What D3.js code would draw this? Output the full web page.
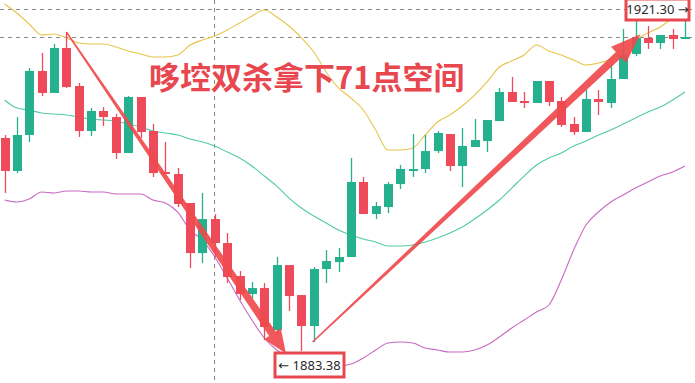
<!DOCTYPE html>
<html>
<head>
<meta charset="utf-8">
<script src="https://cdn.jsdelivr.net/npm/d3@7"></script>
<style>
  html, body { margin: 0; padding: 0; background: #fff; }
  svg { display: block; }
</style>
</head>
<body>
<script>
// candle data (price)
const opens = [1907.00, 1903.34, 1907.33, 1914.43, 1911.99, 1916.98, 1912.76, 1907.77, 1909.99, 1909.32,
  1905.33, 1911.54, 1907.77, 1903.23, 1903.00, 1899.79, 1894.24, 1898.01, 1895.35, 1891.69,
  1889.70, 1890.36, 1885.70, 1892.91, 1889.58, 1886.15, 1892.47, 1893.24, 1893.80, 1902.12,
  1898.57, 1899.34, 1901.89, 1903.45, 1903.56, 1905.55, 1907.44, 1903.89, 1906.00, 1906.66,
  1908.88, 1912.10, 1911.10, 1910.88, 1913.32, 1911.10, 1908.55, 1907.66, 1911.32, 1910.88,
  1913.54, 1916.31, 1918.09, 1917.53, 1918.42, 1917.97];
const highs = [1907.33, 1909.32, 1914.76, 1916.42, 1917.42, 1918.75, 1913.10, 1910.32, 1910.43, 1909.66,
  1911.65, 1911.54, 1908.55, 1906.55, 1903.67, 1899.79, 1900.90, 1898.57, 1896.46, 1892.25,
  1891.03, 1890.92, 1893.80, 1892.91, 1889.58, 1892.69, 1894.57, 1894.80, 1904.78, 1902.67,
  1899.90, 1902.12, 1904.00, 1907.44, 1907.33, 1907.77, 1907.44, 1908.10, 1909.10, 1908.99,
  1912.54, 1913.76, 1912.10, 1913.32, 1913.32, 1911.54, 1909.32, 1912.32, 1912.32, 1915.09,
  1919.08, 1920.08, 1919.42, 1918.42, 1919.08, 1921.30];
const lows = [1900.90, 1903.11, 1906.55, 1911.65, 1911.99, 1912.54, 1907.11, 1907.22, 1908.33, 1904.67,
  1905.33, 1907.00, 1902.67, 1903.00, 1899.34, 1892.58, 1893.13, 1893.80, 1890.92, 1889.03,
  1889.25, 1884.59, 1885.15, 1887.81, 1883.38, 1884.37, 1890.92, 1892.14, 1893.80, 1898.57,
  1898.01, 1898.68, 1901.34, 1902.67, 1903.11, 1905.33, 1903.34, 1901.56, 1906.00, 1905.44,
  1908.88, 1910.99, 1910.32, 1910.88, 1910.54, 1908.22, 1907.33, 1907.66, 1909.55, 1910.32,
  1913.54, 1916.09, 1916.87, 1916.87, 1916.87, 1917.97];
const closes = [1903.34, 1907.33, 1914.43, 1911.99, 1916.98, 1912.65, 1907.77, 1909.99, 1909.32, 1905.33,
  1911.54, 1907.66, 1903.11, 1903.11, 1899.68, 1894.24, 1898.01, 1895.35, 1891.58, 1889.70,
  1890.36, 1886.04, 1892.91, 1889.47, 1886.15, 1892.47, 1893.36, 1893.80, 1902.12, 1898.57,
  1899.45, 1901.89, 1903.56, 1903.56, 1905.55, 1907.55, 1903.89, 1906.11, 1906.77, 1908.99,
  1912.10, 1910.99, 1910.88, 1913.32, 1910.99, 1908.44, 1907.66, 1911.32, 1910.99, 1913.54,
  1916.20, 1918.09, 1917.53, 1918.42, 1917.97, 1918.20];

// bollinger bands
const bbUpper = [1921.86, 1920.86, 1919.64, 1918.42, 1918.53, 1918.09, 1917.53, 1917.42, 1917.42, 1917.09,
  1916.64, 1916.31, 1915.98, 1915.98, 1916.20, 1917.31, 1917.86, 1918.31, 1918.97, 1919.75,
  1920.53, 1921.19, 1920.41, 1919.42, 1918.09, 1916.53, 1914.32, 1912.54, 1911.43, 1910.10,
  1907.88, 1905.67, 1905.67, 1905.89, 1907.33, 1908.77, 1909.55, 1910.54, 1911.76, 1913.21,
  1914.87, 1915.54, 1916.20, 1917.31, 1916.64, 1916.20, 1915.65, 1915.09, 1915.31, 1915.76,
  1916.76, 1917.86, 1918.64, 1919.31, 1920.30, 1921.08];
const bbMid = [1911.21, 1910.32, 1910.10, 1909.77, 1909.66, 1909.55, 1909.32, 1909.10, 1908.99, 1908.88,
  1908.55, 1908.22, 1907.77, 1907.55, 1907.33, 1906.89, 1906.55, 1906.11, 1905.44, 1904.78,
  1903.89, 1902.78, 1901.67, 1900.34, 1899.23, 1898.35, 1897.57, 1896.79, 1896.24, 1895.80,
  1895.46, 1895.02, 1895.02, 1895.13, 1895.46, 1895.91, 1896.46, 1897.13, 1898.01, 1899.01,
  1900.12, 1901.45, 1902.78, 1904.00, 1904.78, 1905.33, 1906.11, 1906.66, 1907.33, 1907.88,
  1908.55, 1909.21, 1909.88, 1910.43, 1911.21, 1912.10];
const bbLower = [1900.12, 1899.90, 1900.23, 1901.01, 1900.90, 1901.12, 1901.12, 1901.01, 1901.01, 1900.79,
  1900.79, 1900.79, 1900.12, 1899.79, 1898.79, 1896.79, 1895.68, 1893.80, 1891.47, 1889.03,
  1886.81, 1884.82, 1883.49, 1882.71, 1882.38, 1882.04, 1881.82, 1881.71, 1881.93, 1882.60,
  1883.49, 1884.26, 1884.37, 1884.26, 1883.71, 1883.49, 1883.26, 1883.26, 1883.49, 1884.04,
  1884.93, 1885.93, 1886.81, 1887.70, 1888.48, 1891.25, 1894.57, 1897.35, 1898.79, 1899.90,
  1900.67, 1901.45, 1902.12, 1902.78, 1903.23, 1903.89];

const highLabel = '1921.30 →';
const lowLabel = '← 1883.38';
const lastPrice = 1918.20;
const crossIndex = 17;
const title = '哆埪双杀拿下71点空间';

// arrows: [startIndex, startPrice, tipIndex, tipPrice]
const arrowDown = [5, 1918.75, 22.75, 1883.10];
const arrowUp = [24.9, 1884.37, 51.4, 1918.50];

const width = 695, height = 383;
const upColor = '#25b08e', downColor = '#ee4a59', markRed = '#ef4a4d';

const svg = d3.select('body').append('svg')
  .attr('width', width)
  .attr('height', height);

const x = d3.scaleLinear().domain([0, opens.length - 1]).range([4.5, 685]);
const y = d3.scaleLinear().domain([1879.83, 1922.30]).range([height, 0]);
const bodyW = 9;

// dashed guide lines
const guides = svg.append('g').attr('stroke', '#8a8a8a').attr('stroke-dasharray', '4,4').attr('stroke-width', 1);
[highs[highs.length - 1], lastPrice].forEach(p => {
  guides.append('line').attr('x1', 0).attr('x2', width)
    .attr('y1', Math.round(y(p)) + 0.5).attr('y2', Math.round(y(p)) + 0.5);
});
guides.append('line').attr('y1', 0).attr('y2', height)
  .attr('x1', Math.round(x(crossIndex)) - 0.5).attr('x2', Math.round(x(crossIndex)) - 0.5);

// bands
const band = arr => d3.line().x((d, i) => x(i)).y(d => y(d)).curve(d3.curveMonotoneX)(arr);
svg.append('path').attr('d', band(bbUpper)).attr('fill', 'none').attr('stroke', '#e8c44a').attr('stroke-width', 1.1);
svg.append('path').attr('d', band(bbMid)).attr('fill', 'none').attr('stroke', '#52c9a9').attr('stroke-width', 1.1);
svg.append('path').attr('d', band(bbLower)).attr('fill', 'none').attr('stroke', '#c86ac4').attr('stroke-width', 1.1);

// candles
const candles = svg.append('g').selectAll('g').data(opens.map((o, i) => ({
  i, o, h: highs[i], l: lows[i], c: closes[i]
}))).enter().append('g')
  .attr('fill', d => d.c >= d.o ? upColor : downColor)
  .attr('stroke', d => d.c >= d.o ? upColor : downColor);

candles.append('line')
  .attr('x1', d => Math.round(x(d.i)) + 0.5).attr('x2', d => Math.round(x(d.i)) + 0.5)
  .attr('y1', d => y(d.h)).attr('y2', d => y(d.l))
  .attr('stroke-width', 1.3);

candles.append('rect')
  .attr('stroke', 'none')
  .attr('x', d => Math.round(x(d.i)) + 0.5 - bodyW / 2)
  .attr('width', bodyW)
  .attr('y', d => y(Math.max(d.o, d.c)))
  .attr('height', d => Math.max(2, Math.abs(y(d.o) - y(d.c))));

// tapered annotation arrows
function arrowPath(a, w0, w1, headW, headL) {
  const x0 = x(a[0]), y0 = y(a[1]), x1 = x(a[2]), y1 = y(a[3]);
  const len = Math.hypot(x1 - x0, y1 - y0);
  const ux = (x1 - x0) / len, uy = (y1 - y0) / len;
  const nx = -uy, ny = ux;
  const bx = x1 - ux * headL, by = y1 - uy * headL;
  const pts = [
    [x0 + nx * w0 / 2, y0 + ny * w0 / 2],
    [bx + nx * w1 / 2, by + ny * w1 / 2],
    [bx + nx * headW / 2, by + ny * headW / 2],
    [x1, y1],
    [bx - nx * headW / 2, by - ny * headW / 2],
    [bx - nx * w1 / 2, by - ny * w1 / 2],
    [x0 - nx * w0 / 2, y0 - ny * w0 / 2]
  ];
  return 'M' + pts.map(p => p.join(',')).join('L') + 'Z';
}
svg.append('path').attr('d', arrowPath(arrowDown, 1.5, 8, 20, 24)).attr('fill', markRed).attr('opacity', 0.92);
svg.append('path').attr('d', arrowPath(arrowUp, 1.5, 8, 22, 30)).attr('fill', markRed).attr('opacity', 0.92);

// title
svg.append('text')
  .attr('x', 149).attr('y', 89)
  .attr('font-family', '"Noto Sans CJK SC", sans-serif')
  .attr('font-weight', 'bold')
  .attr('font-size', 31)
  .attr('fill', '#e8474f')
  .attr('stroke', '#fff').attr('stroke-width', 0.6).attr('paint-order', 'stroke')
  .text(title);

// price tags
function tag(x0, y0, w, h, label) {
  svg.append('rect').attr('x', x0).attr('y', y0).attr('width', w).attr('height', h)
    .attr('fill', '#fff').attr('stroke', '#e8474f').attr('stroke-width', 3);
  svg.append('text').attr('x', x0 + w / 2).attr('y', y0 + h / 2 + 4.5)
    .attr('text-anchor', 'middle')
    .attr('font-family', '"Noto Sans", "DejaVu Sans", sans-serif')
    .attr('font-size', 13).attr('fill', '#2a2a2a')
    .text(label);
}
tag(626, -1, 63, 21, highLabel);
tag(275, 353, 69, 24, lowLabel);
</script>
</body>
</html>
